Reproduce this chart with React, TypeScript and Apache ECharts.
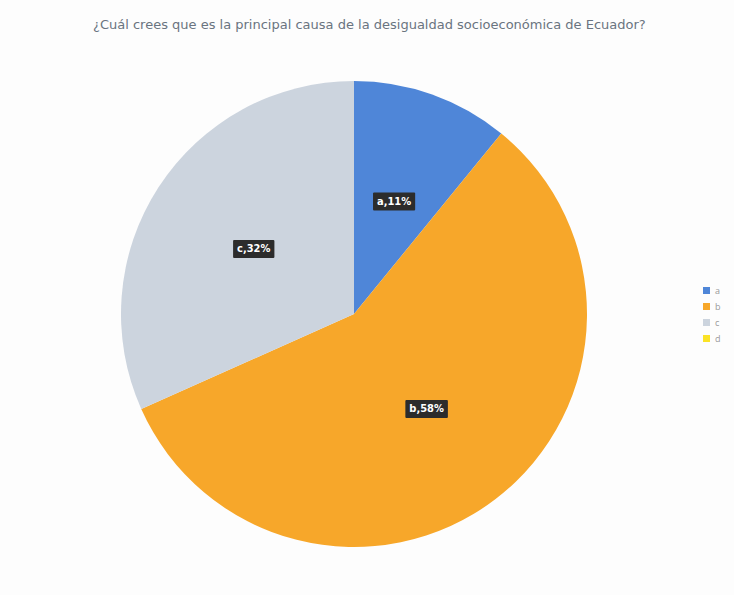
import React, { useEffect, useRef } from "react";
import * as echarts from "echarts";

const titleText = "¿Cuál crees que es la principal causa de la desigualdad socioeconómica de Ecuador?";
const categories = ["a", "b", "c", "d"];
const values = [11, 58, 32, 0];
const colors = ["#4f86d8", "#f7a72a", "#ccd4de", "#fbe326"];

export default function App() {
  const ref = useRef<HTMLDivElement>(null);
  useEffect(() => {
    if (!ref.current) return;
    const chart = echarts.init(ref.current, null, { renderer: "svg" });
    const data = categories.map((name, i) => ({
      name,
      value: values[i],
      itemStyle: { color: colors[i] },
      label: { show: values[i] > 0 },
    }));
    chart.setOption({
      animation: false,
      backgroundColor: "#fdfdfd",
      title: {
        text: titleText,
        left: 88,
        top: 13,
        textStyle: {
          fontSize: 13,
          fontWeight: "normal",
          color: "#6a7480",
          fontFamily: "DejaVu Sans",
        },
      },
      legend: {
        orient: "vertical",
        left: 698,
        top: 281,
        itemWidth: 7,
        itemHeight: 7,
        itemGap: 7,
        icon: "rect",
        data: categories,
        textStyle: { fontSize: 9, color: "#9a9a9a", fontFamily: "Open Sans", padding: [0, 0, 0, 0] },
      },
      series: [
        {
          type: "pie",
          center: [354, 314],
          radius: 233,
          startAngle: 90,
          clockwise: true,
          data,
          itemStyle: { borderWidth: 0 },
          label: {
            position: "inside",
            formatter: "{b},{c}%",
            backgroundColor: "#2c2c2c",
            color: "#ffffff",
            fontWeight: "bold",
            fontSize: 11,
            fontFamily: "DejaVu Sans Condensed",
            padding: [4, 4, 3, 4],
            borderRadius: 1,
          },
          labelLine: { show: false },
          emphasis: { disabled: true },
        },
      ],
    });
    return () => chart.dispose();
  }, []);
  return (
    <div
      ref={ref}
      style={{ position: "fixed", left: 0, top: 0, width: 734, height: 595 }}
    />
  );
}
